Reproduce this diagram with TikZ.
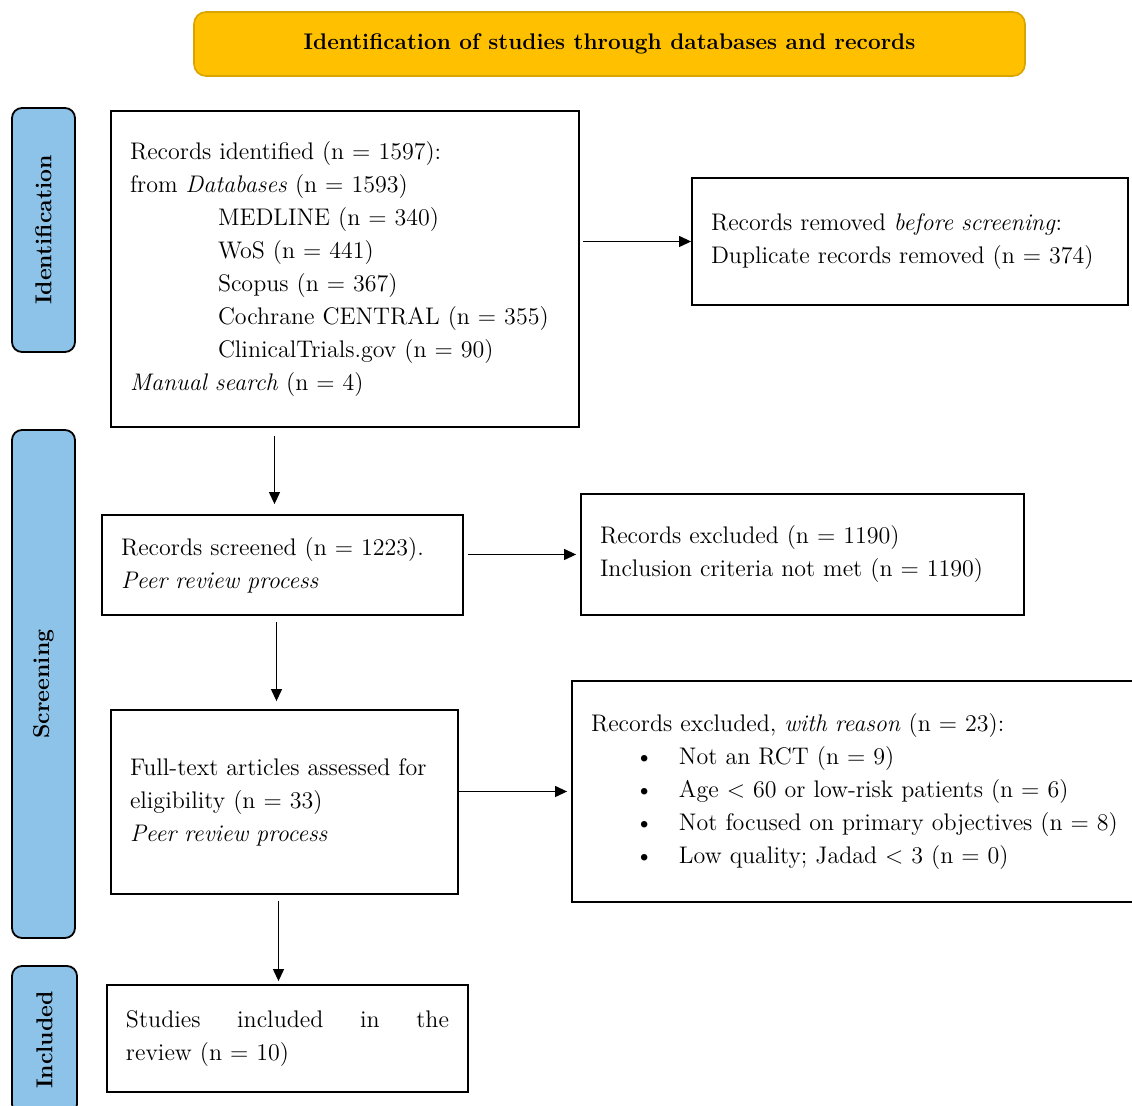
\documentclass[tikz,border=0pt]{standalone}
\usepackage{amssymb}
\usepackage{amsmath}
\usetikzlibrary{arrows.meta}

\definecolor{headfill}{HTML}{FFC000}
\definecolor{headline}{HTML}{D9A300}
\definecolor{sidefill}{HTML}{8DC3E8}

\tikzset{
  txt/.style={font=\fontsize{12}{16.5}\selectfont},
  box/.style={txt, draw, line width=0.9pt, rectangle, align=left, inner sep=0pt},
  side/.style={draw, line width=0.9pt, fill=sidefill, rounded corners=5pt,
    minimum width=31.5pt, inner sep=0pt},
  sidetxt/.style={font=\fontsize{11.5}{14}\selectfont\bfseries, rotate=90},
  arr/.style={-{Triangle[length=6pt,width=5.5pt]}, line width=0.6pt}
}

\begin{document}
\begin{tikzpicture}[x=0.5pt, y=-0.5pt]
  \useasboundingbox (0,0) rectangle (1132,1106);
  % header
  \node[draw=headline, line width=0.8pt, fill=headfill, rounded corners=6pt,
    minimum width=415.5pt, minimum height=32pt,
    font=\fontsize{11.3}{14}\selectfont\bfseries] (head) at (609.5,44)
    {Identification of studies through databases and records};
  % phases
  \node[side, minimum height=122pt] (sid) at (43.5,230) {};
  \node[sidetxt] (sidlab) at (sid.center) {Identification};
  \node[side, minimum height=254pt] (sscr) at (43.5,684) {};
  \node[sidetxt] (sscrlab) at (sscr.center) {Screening};
  \node[side, minimum height=74pt, minimum width=32.5pt] (sinc) at (44.5,1040) {};
  \node[sidetxt] (sinclab) at (sinc.center) {Included};
  % boxes
  \node[box, minimum width=234pt, minimum height=158pt, text width=215pt] (ident) at (345,269)
    {Records identified (n = 1597):\\
     from \textit{Databases} (n = 1593)\\
     \hspace*{44pt}MEDLINE (n = 340)\\
     \hspace*{44pt}WoS (n = 441)\\
     \hspace*{44pt}Scopus (n = 367)\\
     \hspace*{44pt}Cochrane CENTRAL (n = 355)\\
     \hspace*{44pt}ClinicalTrials.gov (n = 90)\\
     \textit{Manual search} (n = 4)};
  \node[box, minimum width=218pt, minimum height=63.5pt, text width=199pt] (removed) at (910,241.5)
    {Records removed \textit{before screening}:\\
     Duplicate records removed (n = 374)};
  \node[box, minimum width=180.5pt, minimum height=50pt, text width=161.5pt] (screened) at (282.5,565)
    {Records screened (n = 1223).\\
     \textit{Peer review process}};
  \node[box, minimum width=221.5pt, minimum height=60.5pt, text width=202.5pt] (excluded) at (802.5,554.5)
    {Records excluded (n = 1190)\\
     Inclusion criteria not met (n = 1190)};
  \node[box, minimum width=173.5pt, minimum height=92pt, text width=154.5pt] (fulltext) at (284.5,802)
    {Full-text articles assessed for\\
     eligibility (n = 33)\\
     \textit{Peer review process}};
  \node[box, inner xsep=9.5pt, minimum height=110.5pt, text width=272pt] (reasons) at (863,791.5)
    {Records excluded, \textit{with reason} (n = 23):\\
     \hspace*{22pt}\makebox[22pt][l]{\textbullet}Not an RCT (n = 9)\\
     \hspace*{22pt}\makebox[22pt][l]{\textbullet}Age < 60 or low-risk patients (n = 6)\\
     \hspace*{22pt}\makebox[22pt][l]{\textbullet}Not focused on primary objectives (n = 8)\\
     \hspace*{22pt}\makebox[22pt][l]{\textbullet}Low quality; Jadad < 3 (n = 0)};
  \node[box, minimum width=180.5pt, minimum height=53.5pt, text width=161.5pt] (included) at (287.5,1038.5)
    {\hbox to \linewidth{Studies\hfill included\hfill in\hfill the}\\
     review (n = 10)};
  % arrows
  \coordinate (d1) at ([xshift=-4pt]screened.north);
  \coordinate (d2) at ([xshift=-4pt]fulltext.north);
  \coordinate (d3) at ([xshift=-4.5pt]included.north);
  \draw[arr, shorten <=1.5pt] (ident.east |- removed.west) -- (removed.west);
  \draw[arr, shorten <=4pt, shorten >=5pt] (ident.south -| d1) -- (d1);
  \draw[arr, shorten <=2pt, shorten >=2pt] (screened.east |- excluded.west) -- (excluded.west);
  \draw[arr, shorten <=3pt, shorten >=4pt] (screened.south -| d2) -- (d2);
  \draw[arr, shorten >=2pt] (fulltext.east |- reasons.west) -- (reasons.west);
  \draw[arr, shorten <=3pt, shorten >=1.5pt] (fulltext.south -| d3) -- (d3);
\end{tikzpicture}
\end{document}
